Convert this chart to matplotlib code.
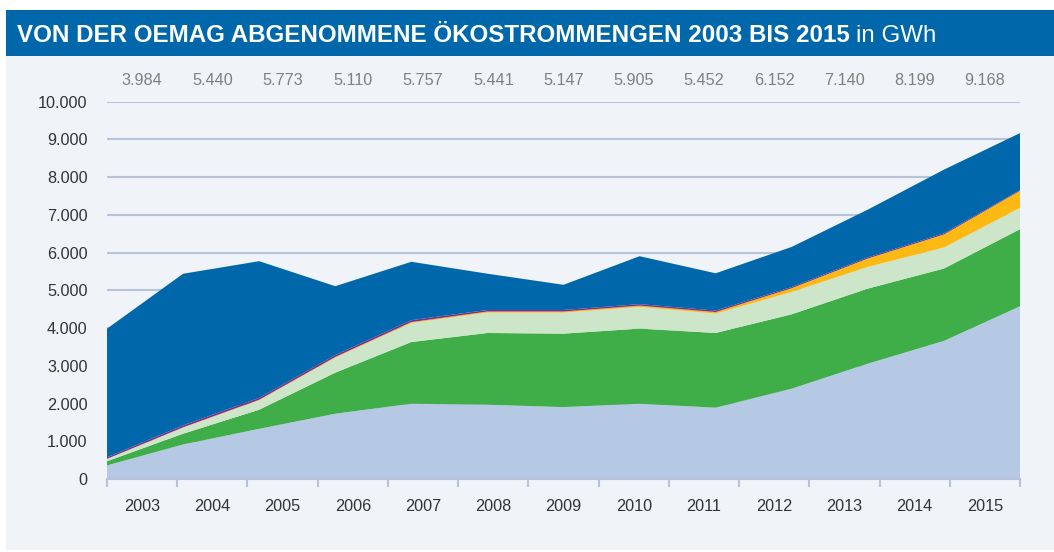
import numpy as np
import matplotlib
matplotlib.use("Agg")
import matplotlib.pyplot as plt
from matplotlib.patches import Rectangle

plt.rcParams["font.family"] = ["Liberation Sans", "DejaVu Sans"]

# Jahre und Gesamtmengen (GWh)
jahre = ["2003", "2004", "2005", "2006", "2007", "2008", "2009",
         "2010", "2011", "2012", "2013", "2014", "2015"]
gesamt = [3984, 5440, 5773, 5110, 5757, 5441, 5147, 5905, 5452, 6152, 7140, 8199, 9168]

# Schichten von unten nach oben
wind = [360, 915, 1330, 1730, 1995, 1970, 1905, 1995, 1890, 2395, 3057, 3660, 4578]
biomasse_fest = [110, 285, 506, 1088, 1635, 1900, 1948, 1991, 1980, 1971, 1990, 1918, 2043]
biogas = [60, 160, 250, 397, 505, 540, 557, 574, 515, 592, 575, 558, 566]
photovoltaik = [5, 10, 15, 20, 25, 30, 30, 35, 40, 100, 222, 345, 451]
sonstige = [40, 50, 50, 50, 50, 40, 40, 40, 40, 30, 30, 30, 20]
kleinwasserkraft = [3409, 4020, 3622, 1825, 1547, 961, 667, 1270, 987, 1064, 1266, 1688, 1510]

farben = ["#b5c9e4", "#3fae49", "#cde5c8", "#fdb913", "#7b2d8e", "#0068aa"]
bg = "#f0f4f9"

fig = plt.figure(figsize=(10.54, 5.52), dpi=100)
W, H = 1054, 552

# Hintergrund + Titelbalken
fig.patches.append(Rectangle((6 / W, 2 / H), 1, 1 - 58 / H, transform=fig.transFigure,
                             facecolor=bg, edgecolor="none", zorder=-2))
fig.patches.append(Rectangle((6 / W, 1 - 56 / H), 1, 46 / H, transform=fig.transFigure,
                             facecolor="#0068aa", edgecolor="none", zorder=-2))
t = fig.text(17 / W, 1 - 42.5 / H, "VON DER OEMAG ABGENOMMENE ÖKOSTROMMENGEN 2003 BIS 2015",
             color="white", fontsize=17.4, fontweight="bold", va="baseline", ha="left")
fig.canvas.draw()
bb = t.get_window_extent()
fig.text(bb.x1 / W + 6 / W, 1 - 42.5 / H, "in GWh", color="white", fontsize=17.4,
         va="baseline", ha="left")

ax = fig.add_axes([107 / W, 1 - 479 / H, 913 / W, (479 - 101.7) / H])
ax.set_zorder(1)
ax.set_facecolor("none")
x = np.arange(len(jahre))
ax.stackplot(x, wind, biomasse_fest, biogas, photovoltaik, sonstige, kleinwasserkraft,
             colors=farben, linewidth=0, zorder=2)
ax.set_xlim(0, len(jahre) - 1)
ax.set_ylim(0, 10000)

gridc = "#b7c3d9"
yt = np.arange(0, 10001, 1000)
ax.set_yticks(yt)
ax.set_yticklabels([f"{v:,}".replace(",", ".") for v in yt], fontsize=11.7, color="#333333")
for v in yt[1:]:
    ax.axhline(v, color=gridc, lw=1.5, zorder=1)
ax.tick_params(axis="y", length=0, pad=14)

# Kategorien-Achse
grenzen = np.linspace(0, len(jahre) - 1, len(jahre) + 1)
mitten = (grenzen[:-1] + grenzen[1:]) / 2
ax.set_xticks(grenzen)
ax.set_xticklabels([])
ax.tick_params(axis="x", length=6, width=1.5, color=gridc, direction="out")
for xm, j in zip(mitten, jahre):
    ax.text(xm, -0.073, j, transform=ax.get_xaxis_transform(), ha="center", va="center",
            fontsize=11.7, color="#333333")
for xm, g in zip(mitten, gesamt):
    ax.text(xm, 1.056, f"{g:,}".replace(",", "."), transform=ax.get_xaxis_transform(),
            ha="center", va="center", fontsize=11.7, color="#808080")

for s in ["top", "right", "left"]:
    ax.spines[s].set_visible(False)
ax.spines["bottom"].set_color(gridc)
ax.spines["bottom"].set_linewidth(1.5)
ax.spines["bottom"].set_zorder(3)

fig.savefig("out.png", dpi=100)
